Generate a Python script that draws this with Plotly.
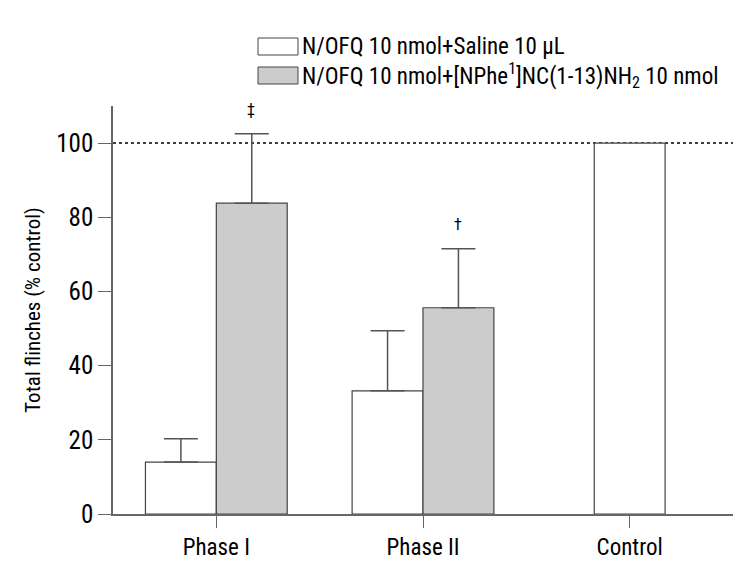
import plotly.graph_objects as go

categories = ["Phase I", "Phase II", "Control"]
phases = ["Phase I", "Phase II"]
saline = [14.0, 33.2]
saline_err = [6.3, 16.2]
nphe = [83.8, 55.6]
nphe_err = [18.7, 15.9]
control = [100]
control_label = ["Control"]
legend_labels = ["N/OFQ 10 nmol+Saline 10 μL",
                 "N/OFQ 10 nmol+[NPhe<sup>1</sup>]NC(1-13)NH<sub>2</sub> 10 nmol"]
sig_marks = ["‡", "†"]

FONT = "Roboto Condensed, DejaVu Sans Condensed, Roboto, sans-serif"
W = 0.343
line_col = "#444444"
err = dict(type="data", symmetric=False, color="#555555", thickness=1.5, width=17)

fig = go.Figure()
fig.add_bar(x=phases, y=saline, width=W, offset=-W, name=legend_labels[0],
            marker=dict(color="white", line=dict(color=line_col, width=1.2)),
            error_y=dict(array=saline_err, arrayminus=[0, 0], **err), showlegend=False)
fig.add_bar(x=phases, y=nphe, width=W, offset=0, name=legend_labels[1],
            marker=dict(color="#cccccc", line=dict(color=line_col, width=1.2)),
            error_y=dict(array=nphe_err, arrayminus=[0, 0], **err), showlegend=False)
fig.add_bar(x=control_label, y=control, width=W, offset=-W / 2,
            marker=dict(color="white", line=dict(color=line_col, width=1.2)), showlegend=False)

# dotted 100% reference line
fig.add_shape(type="line", xref="paper", x0=0, x1=1, yref="y", y0=100, y1=100,
              line=dict(color="black", width=1.5, dash="dot"), layer="below")

# significance marks
for i, (p, v, e) in enumerate(zip(phases, nphe, nphe_err)):
    fig.add_annotation(x=p, y=v + e, xshift=35, yshift=13, text=sig_marks[i],
                       showarrow=False, font=dict(family=FONT, size=16, color="black"),
                       yanchor="bottom")

# manual legend
fills = ["white", "#cccccc"]
for i, (lab, fc) in enumerate(zip(legend_labels, fills)):
    y_top = 30 + i * 29
    fig.add_shape(type="rect", xref="paper", yref="paper",
                  x0=(250 - 105) / 620, x1=(290 - 105) / 620,
                  y0=(571 - 65 - (y_top + 17)) / 408, y1=(571 - 65 - y_top) / 408,
                  fillcolor=fc, line=dict(color=line_col, width=1))
    fig.add_annotation(xref="paper", yref="paper", x=(292 - 105) / 620,
                       y=(571 - 65 - (y_top + 8.5)) / 408, text=lab, showarrow=False,
                       xanchor="left", yanchor="middle",
                       font=dict(family=FONT, size=23, color="black"))

fig.update_layout(
    width=754, height=571,
    margin=dict(l=105, r=29, t=98, b=65),
    plot_bgcolor="white", paper_bgcolor="white",
    barmode="overlay",
    font=dict(family=FONT, color="black"),
    xaxis=dict(type="category", categoryorder="array", categoryarray=categories,
               range=[-0.5, 2.5], showline=True, linecolor="#666666", linewidth=1.5,
               ticks="outside", ticklen=12, tickcolor="#666666", tickwidth=1.2,
               tickfont=dict(family=FONT, size=23), showgrid=False, zeroline=False),
    yaxis=dict(range=[0, 110], tickvals=[0, 20, 40, 60, 80, 100], showline=True,
               linecolor="#666666", linewidth=1.5, ticks="outside", ticklen=13,
               tickcolor="#666666", tickwidth=1.2, tickfont=dict(family=FONT, size=25),
               showgrid=False, zeroline=False,
               title=dict(text="Total flinches (% control)", standoff=10,
                          font=dict(family=FONT, size=21))),
)

fig.write_html("out.html")
